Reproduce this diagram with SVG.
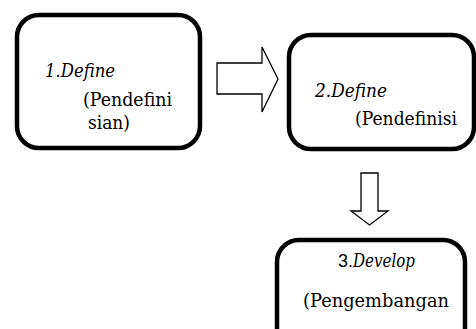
<svg xmlns="http://www.w3.org/2000/svg" width="476" height="329" viewBox="0 0 476 329">
<style>
.box{fill:#fff;stroke:#000;stroke-width:4.5}
.arr{fill:#fff;stroke:#000;stroke-width:1.3;stroke-linejoin:miter}
.t{font-family:'DejaVu Serif','Liberation Serif',serif;font-size:18px;fill:#000}
.it{font-style:italic}
.sans{font-family:'Liberation Sans',Arial,sans-serif;font-size:18px;fill:#000}
</style>
<rect width="476" height="329" fill="#fff"/>
<g id="connectors">
<polygon class="arr" points="217,63 262,63 262,47 278,79 262,112 262,94 217,94"/>
<polygon class="arr" points="361,173 378,173 378,211 388,211 369.5,225 351,211 361,211"/>
</g>
<g id="node1">
<rect class="box" x="17" y="15" width="183" height="133" rx="22"/>
<text x="45" y="77" class="t it" textLength="70" lengthAdjust="spacingAndGlyphs">1.Define</text>
<text x="83" y="106" class="t" textLength="89" lengthAdjust="spacingAndGlyphs">(Pendefini</text>
<text x="88" y="129" class="t" textLength="42" lengthAdjust="spacingAndGlyphs">sian)</text>
</g>
<g id="node2">
<rect class="box" x="289" y="35" width="185" height="114" rx="22"/>
<text x="315" y="97" class="t it" textLength="72" lengthAdjust="spacingAndGlyphs">2.Define</text>
<text x="355" y="125" class="t" textLength="102" lengthAdjust="spacingAndGlyphs">(Pendefinisi</text>
</g>
<g id="node3">
<rect class="box" x="277" y="240" width="188" height="110" rx="22"/>
<text x="338" y="267" class="sans">3.</text>
<text x="353" y="267" class="t it" textLength="62" lengthAdjust="spacingAndGlyphs">Develop</text>
<text x="303" y="307" class="t" textLength="146" lengthAdjust="spacingAndGlyphs">(Pengembangan</text>
</g>
</svg>
